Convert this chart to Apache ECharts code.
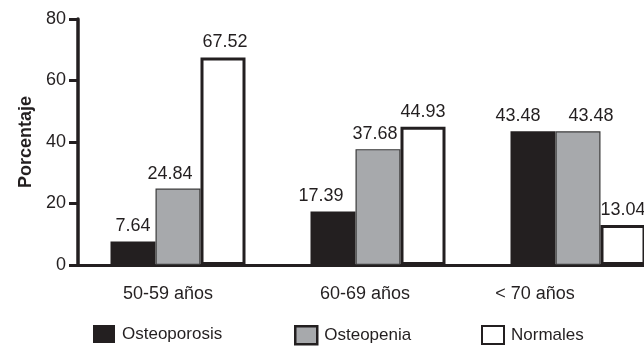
<!DOCTYPE html>
<html>
<head>
<meta charset="utf-8">
<script src="https://cdn.jsdelivr.net/npm/echarts@6/dist/echarts.min.js"></script>
<style>
  html, body { margin: 0; padding: 0; background: #fff; }
  #chart { width: 644px; height: 352px; }
</style>
</head>
<body>
<div id="chart"></div>
<script>
var categories = ['50-59 años', '60-69 años', '< 70 años'];
var osteoporosis = [7.64, 17.39, 43.48];
var osteopenia = [24.84, 37.68, 43.48];
var normales = [67.52, 44.93, 13.04];
var yTicks = [0, 20, 40, 60, 80];

var ink = '#231f20';
var font = 'Liberation Sans, Arial, sans-serif';
var fs = 18;

var myChart = echarts.init(document.getElementById('chart'));

// small horizontal nudges of the value labels, as in the original figure
var nudgeA = [0, -12, -15];
var nudgeB = [-8, -3, 13];
var nudgeC = [2, 0, 0];

function withLabels(values, nudge) {
    return values.map(function (v, i) {
        return { value: v, label: { offset: [nudge[i], 0] } };
    });
}

var labelStyle = {
    show: true,
    position: 'top',
    distance: 6,
    color: ink,
    fontFamily: font,
    fontSize: fs
};

// per-category offset so the labels sit where the original put them
var catPad = [20, 26, 86];

function legendAt(name, x, itemStyle) {
    return {
        data: [name], left: x, top: 325, padding: 0,
        itemWidth: 22, itemHeight: 18, itemGap: 0, icon: 'rect',
        itemStyle: itemStyle,
        textStyle: { color: ink, fontFamily: font, fontSize: 17, padding: [3, 0, 0, 2] }
    };
}

var option = {
    backgroundColor: '#fff',
    animation: false,
    grid: { left: 78, top: 19, bottom: 87, width: 600, outerBoundsMode: 'none', containLabel: false },
    legend: [
        legendAt('Osteoporosis', 93, { borderWidth: 0 }),
        legendAt('Osteopenia', 294, { borderColor: ink, borderWidth: 2.5 }),
        legendAt('Normales', 481, { borderColor: ink, borderWidth: 2 })
    ],
    xAxis: {
        type: 'category',
        data: categories,
        axisLine: { lineStyle: { color: ink, width: 3 } },
        axisTick: { show: false },
        axisLabel: {
            interval: 0,
            margin: 20,
            color: ink,
            fontFamily: font,
            fontSize: fs,
            formatter: function (v, i) { return '{c' + i + '|' + v + '}'; },
            rich: {
                c0: { padding: [0, catPad[0], 0, 0], fontSize: fs, fontFamily: font, color: ink },
                c1: { padding: [0, catPad[1], 0, 0], fontSize: fs, fontFamily: font, color: ink },
                c2: { padding: [0, catPad[2], 0, 0], fontSize: fs, fontFamily: font, color: ink }
            }
        }
    },
    yAxis: {
        type: 'value',
        min: yTicks[0],
        max: yTicks[yTicks.length - 1],
        interval: 20,
        name: 'Porcentaje',
        nameLocation: 'middle',
        nameRotate: 90,
        nameGap: 42,
        nameTextStyle: { color: ink, fontFamily: font, fontSize: 18, fontWeight: 'bold' },
        axisLine: { show: true, lineStyle: { color: ink, width: 3.5 } },
        axisTick: { show: true, inside: false, length: 9, lineStyle: { color: ink, width: 3 } },
        axisLabel: { margin: 12, color: ink, fontFamily: font, fontSize: fs },
        splitLine: { show: false }
    },
    series: [
        {
            name: 'Osteoporosis', type: 'bar', data: withLabels(osteoporosis, nudgeA),
            barWidth: 45, barGap: '0%',
            itemStyle: { color: ink },
            label: labelStyle
        },
        {
            name: 'Osteopenia', type: 'bar', data: withLabels(osteopenia, nudgeB),
            barWidth: 45, barGap: '0%',
            itemStyle: { color: '#a7a9ac', borderColor: '#3a3a3a', borderWidth: 1.2 },
            label: labelStyle
        },
        {
            name: 'Normales', type: 'bar', data: withLabels(normales, nudgeC),
            barWidth: 45, barGap: '0%',
            itemStyle: { color: '#fff', borderColor: ink, borderWidth: 3 },
            label: labelStyle
        }
    ]
};

myChart.setOption(option);
</script>
</body>
</html>
